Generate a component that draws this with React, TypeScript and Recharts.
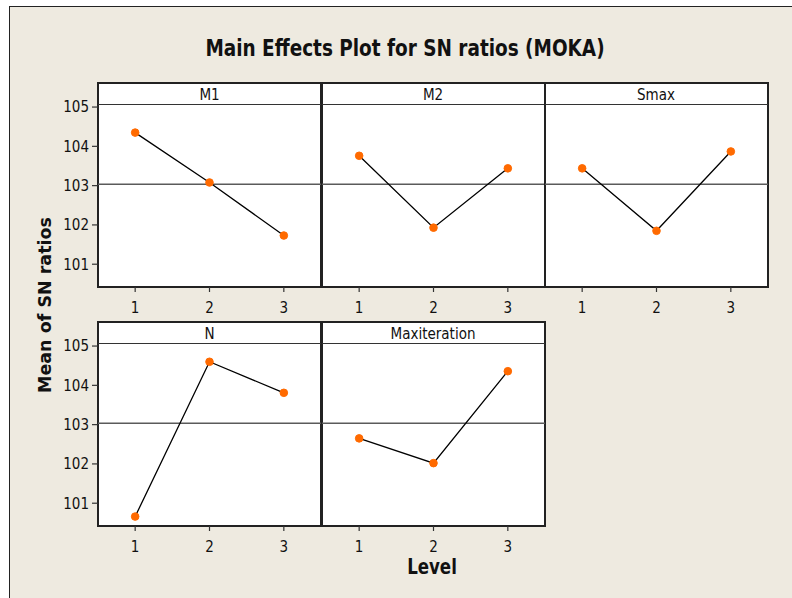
import React from "react";
import { LineChart, Line, XAxis, YAxis, ReferenceLine } from "recharts";

const levels = [1, 2, 3];
const m1Values = [104.35, 103.08, 101.73];
const m2Values = [103.76, 101.93, 103.44];
const smaxValues = [103.44, 101.85, 103.87];
const nValues = [100.66, 104.6, 103.81];
const maxIterValues = [102.65, 102.02, 104.36];
const factorNames = ["M1", "M2", "Smax", "N", "Maxiteration"];
const yTicks = [101, 102, 103, 104, 105];
const xTicks = [1, 2, 3];

const allSeries = [m1Values, m2Values, smaxValues, nValues, maxIterValues];
const allVals = allSeries.flat();
const grandMean = allVals.reduce((a, b) => a + b, 0) / allVals.length;

const TITLE = "Main Effects Plot for SN ratios (MOKA)";
const Y_LABEL = "Mean of SN ratios";
const X_LABEL = "Level";

const BG = "#EEEAE0";
const ORANGE = "#FF6A00";
const FONT = "'DejaVu Sans Condensed', 'DejaVu Sans', sans-serif";

const COL_X = [98, 321.5, 544.5];
const ROW_Y = [83, 322];
const PANEL_W = 223;
const HEADER_H = 21.5;
const PLOT_H = 182.5;
const Y_AXIS_W = 40;
const X_AXIS_H = 34;
const Y_DOMAIN: [number, number] = [100.42, 105.065];

function Panel({ name, values, col, row }: { name: string; values: number[]; col: number; row: number }) {
  const x = COL_X[col];
  const y = ROW_Y[row];
  const showY = col === 0;
  const data = levels.map((l, i) => ({ level: l, value: values[i] }));
  const chartLeft = showY ? x - Y_AXIS_W : x;
  const chartW = showY ? PANEL_W + Y_AXIS_W : PANEL_W;
  return (
    <>
      <div
        style={{
          position: "absolute",
          left: x - 1,
          top: y - 1,
          width: PANEL_W + 2,
          height: HEADER_H + PLOT_H + 2,
          background: "#fff",
          border: "2px solid #222",
          boxSizing: "border-box",
        }}
      />
      <div
        style={{
          position: "absolute",
          left: x,
          top: y + HEADER_H - 0.9,
          width: PANEL_W,
          height: 1.8,
          background: "#333",
        }}
      />
      <div
        style={{
          position: "absolute",
          left: x,
          top: y + 1.5,
          width: PANEL_W,
          height: HEADER_H,
          lineHeight: HEADER_H + "px",
          textAlign: "center",
          fontFamily: FONT,
          fontSize: 15,
          color: "#111",
        }}
      >
        {name}
      </div>
      <div style={{ position: "absolute", left: chartLeft, top: y }}>
        <LineChart
          width={chartW}
          height={HEADER_H + PLOT_H + X_AXIS_H}
          data={data}
          margin={{ top: HEADER_H, right: 0, bottom: 0, left: 0 }}
          style={{ overflow: "visible" }}
        >
          <XAxis
            type="number"
            dataKey="level"
            domain={[0.5, 3.5]}
            ticks={xTicks}
            allowDataOverflow
            axisLine={false}
            tickLine={{ stroke: "#333", strokeWidth: 1.2 }}
            tickSize={5}
            tickMargin={10}
            height={X_AXIS_H}
            tick={{ fill: "#111", fontSize: 15, fontFamily: FONT }}
          />
          <YAxis
            type="number"
            domain={Y_DOMAIN}
            ticks={yTicks}
            allowDataOverflow
            hide={!showY}
            width={Y_AXIS_W}
            axisLine={false}
            tickLine={{ stroke: "#333", strokeWidth: 1.2 }}
            tickSize={6}
            tickMargin={3}
            tick={{ fill: "#111", fontSize: 15, fontFamily: FONT }}
          />
          <ReferenceLine y={grandMean} stroke="#5a5a5a" strokeWidth={1.6} ifOverflow="hidden" />
          <Line
            type="linear"
            dataKey="value"
            stroke="#000"
            strokeWidth={1.3}
            dot={{ r: 3.8, fill: ORANGE, stroke: ORANGE, strokeWidth: 1 }}
            activeDot={false}
            isAnimationActive={false}
          />
        </LineChart>
      </div>
    </>
  );
}

export default function App() {
  return (
    <div style={{ position: "absolute", left: 0, top: 0, width: 792, height: 598, background: "#fff", overflow: "hidden" }}>
      <div
        style={{
          position: "absolute",
          left: 8.5,
          top: 5.5,
          width: 800,
          height: 620,
          background: BG,
          border: "1.5px solid #222",
          boxSizing: "border-box",
        }}
      />
      <div
        style={{
          position: "absolute",
          left: 155,
          top: 33,
          width: 500,
          textAlign: "center",
          fontFamily: FONT,
          fontWeight: "bold",
          fontSize: 20.5,
          lineHeight: "30px",
          color: "#111",
          transform: "scaleY(1.15)",
        }}
      >
        {TITLE}
      </div>
      {factorNames.map((name, i) => (
        <Panel key={name} name={name} values={allSeries[i]} col={i % 3} row={Math.floor(i / 3)} />
      ))}
      <div
        style={{
          position: "absolute",
          left: 45,
          top: 305,
          transform: "translate(-50%, -50%) rotate(-90deg)",
          whiteSpace: "nowrap",
          fontFamily: "'DejaVu Sans', sans-serif",
          fontWeight: "bold",
          fontSize: 17.5,
          color: "#111",
        }}
      >
        {Y_LABEL}
      </div>
      <div
        style={{
          position: "absolute",
          left: 332,
          top: 554,
          width: 200,
          textAlign: "center",
          fontFamily: FONT,
          fontWeight: "bold",
          fontSize: 18.5,
          lineHeight: "26px",
          color: "#111",
          transform: "scaleY(1.12)",
        }}
      >
        {X_LABEL}
      </div>
    </div>
  );
}
